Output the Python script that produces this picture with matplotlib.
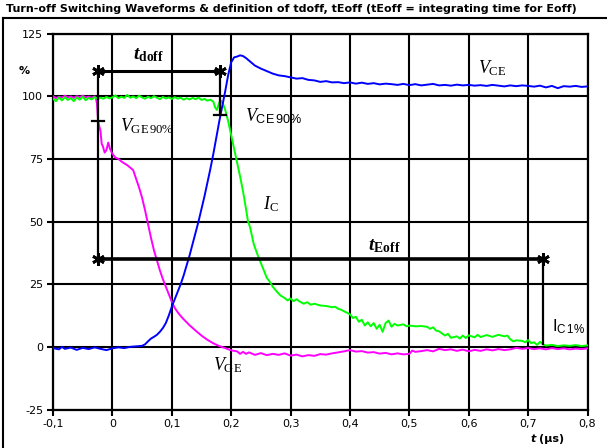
import matplotlib
matplotlib.use('Agg')
import matplotlib.pyplot as plt
from matplotlib.lines import Line2D

plt.rcParams['axes.unicode_minus'] = False
plt.rcParams['mathtext.fontset'] = 'custom'
plt.rcParams['mathtext.rm'] = 'Liberation Serif'
plt.rcParams['mathtext.it'] = 'Liberation Serif:italic'
plt.rcParams['mathtext.bf'] = 'Liberation Serif:bold'
plt.rcParams['mathtext.bfit'] = 'Liberation Serif:italic:bold'
plt.rcParams['mathtext.sf'] = 'Liberation Sans'

# collector-emitter voltage (%)
vce_t = [-0.1, -0.09, -0.085, -0.08, -0.07, -0.06, -0.05, -0.04, -0.03, -0.02,
         -0.01, 0.0, 0.01, 0.02, 0.03, 0.04, 0.05, 0.055, 0.06, 0.065,
         0.07, 0.075, 0.08, 0.085, 0.09, 0.095, 0.1, 0.105, 0.11, 0.115,
         0.12, 0.125, 0.13, 0.135, 0.14, 0.145, 0.15, 0.155, 0.16, 0.165,
         0.17, 0.175, 0.18, 0.185, 0.19, 0.195, 0.2, 0.205, 0.21, 0.215,
         0.22, 0.225, 0.23, 0.235, 0.24, 0.25, 0.26, 0.27, 0.28, 0.29,
         0.3, 0.31, 0.32, 0.33, 0.34, 0.35, 0.36, 0.37, 0.38, 0.39,
         0.4, 0.41, 0.42, 0.43, 0.44, 0.45, 0.46, 0.47, 0.48, 0.49,
         0.5, 0.51, 0.52, 0.53, 0.54, 0.55, 0.56, 0.57, 0.58, 0.59,
         0.6, 0.61, 0.62, 0.63, 0.64, 0.65, 0.66, 0.67, 0.68, 0.69,
         0.7, 0.71, 0.72, 0.73, 0.74, 0.75, 0.76, 0.77, 0.78, 0.79, 0.8]
vce = [-0.5, -1.0, 0.0, -0.8, -0.3, -1.2, -0.4, -0.9, -0.2, -0.8,
       -1.3, -0.6, -0.2, -0.5, 0.0, 0.2, 0.4, 1.0, 2.2, 3.3,
       4.0, 4.8, 6.0, 7.5, 9.5, 12.5, 16.0, 19.0, 22.0, 25.0,
       28.5, 32.5, 36.5, 41.0, 45.5, 50.0, 55.0, 60.0, 65.5, 71.0,
       77.0, 83.5, 90.0, 96.0, 102.0, 108.5, 113.5, 115.5, 115.8, 116.3,
       116.0, 115.2, 114.2, 113.2, 112.2, 111.0, 110.0, 109.0, 108.3, 108.0,
       107.5, 107.0, 107.2, 106.5, 106.3, 105.7, 106.0, 105.5, 105.6, 105.2,
       105.5, 105.0, 105.4, 104.9, 105.2, 104.7, 105.0, 104.8, 104.5, 104.9,
       104.4, 104.8, 104.3, 104.6, 104.9, 104.3, 104.5, 104.2, 104.6, 104.3,
       104.5, 104.2, 104.4, 104.1, 104.5, 104.2, 103.9, 104.3, 104.0, 104.3,
       104.1, 103.8, 104.2, 103.5, 104.1, 103.2, 104.0, 103.8, 104.1, 103.7, 103.9]

# collector current (%)
ic_t = [-0.1, -0.095, -0.09, -0.085, -0.08, -0.075, -0.07, -0.065, -0.06, -0.055,
        -0.05, -0.045, -0.04, -0.035, -0.03, -0.025, -0.02, -0.015, -0.01, -0.005,
        0.0, 0.005, 0.01, 0.015, 0.02, 0.025, 0.03, 0.035, 0.04, 0.045,
        0.05, 0.055, 0.06, 0.065, 0.07, 0.075, 0.08, 0.085, 0.09, 0.095,
        0.1, 0.105, 0.11, 0.115, 0.12, 0.125, 0.13, 0.135, 0.14, 0.145,
        0.15, 0.155, 0.16, 0.165, 0.17, 0.173, 0.176, 0.18, 0.183, 0.187,
        0.19, 0.195, 0.2, 0.205, 0.21, 0.215, 0.22, 0.225, 0.228, 0.232,
        0.238, 0.244, 0.25, 0.255, 0.26, 0.265, 0.27, 0.277, 0.283, 0.29,
        0.295, 0.3, 0.305, 0.31, 0.316, 0.322, 0.328, 0.334, 0.34, 0.35,
        0.36, 0.37, 0.375, 0.38, 0.385, 0.39, 0.395, 0.4, 0.405, 0.41,
        0.415, 0.42, 0.425, 0.43, 0.435, 0.44, 0.445, 0.45, 0.455, 0.46,
        0.465, 0.47, 0.475, 0.48, 0.49, 0.495, 0.5, 0.51, 0.52, 0.53,
        0.535, 0.54, 0.545, 0.55, 0.56, 0.565, 0.57, 0.58, 0.585, 0.59,
        0.595, 0.6, 0.61, 0.615, 0.62, 0.63, 0.64, 0.65, 0.66, 0.665,
        0.67, 0.675, 0.68, 0.69, 0.695, 0.7, 0.705, 0.71, 0.715, 0.72,
        0.725, 0.73, 0.74, 0.75, 0.76, 0.77, 0.78, 0.79, 0.8]
ic = [99.0, 98.0, 99.5, 98.3, 99.6, 98.5, 99.2, 98.0, 99.5, 98.6,
      99.8, 98.4, 99.3, 98.7, 99.6, 98.9, 99.4, 99.0, 99.7, 99.1,
      99.5, 100.3, 99.2, 99.8, 99.3, 100.5, 99.4, 99.9, 99.2, 100.2,
      99.5, 99.0, 99.8, 99.2, 100.0, 99.4, 98.8, 99.7, 99.1, 99.5,
      98.9, 99.6, 99.0, 99.4, 98.6, 99.2, 98.7, 99.3, 98.8, 99.4,
      98.5, 98.9, 98.2, 98.6, 97.8, 95.5, 94.5, 97.5, 98.2, 96.5,
      94.5, 90.0, 84.5, 79.0, 73.5, 68.0, 62.0, 55.0, 50.5, 47.5,
      41.0, 37.0, 33.5, 30.5, 27.5, 26.0, 24.0, 22.0, 20.5, 19.5,
      18.5, 19.3, 18.2, 19.0, 18.0, 17.2, 17.8, 16.8, 17.2, 16.5,
      16.3, 15.8, 16.0, 15.2, 14.8, 14.2, 13.6, 13.0, 11.5, 12.0,
      10.0, 10.8, 8.5, 9.8, 8.2, 9.5, 7.2, 8.8, 6.0, 9.5,
      10.5, 8.0, 9.2, 8.5, 9.0, 8.2, 8.5, 8.2, 8.3, 8.0,
      7.2, 7.8, 6.5, 6.2, 4.5, 5.2, 3.6, 4.2, 3.3, 4.5,
      3.5, 4.6, 3.8, 4.8, 3.9, 4.7, 4.0, 4.8, 4.2, 4.5,
      3.0, 2.2, 2.6, 2.4, 1.8, 2.7, 1.5, 1.8, 0.8, 2.0,
      1.0, 0.5, 0.8, 0.3, 0.6, 0.4, 0.7, 0.3, 0.6]

# gate-emitter voltage (%)
vge_t = [-0.1, -0.095, -0.09, -0.085, -0.08, -0.075, -0.07, -0.065, -0.06, -0.055,
         -0.05, -0.045, -0.04, -0.035, -0.03, -0.028, -0.026, -0.024, -0.022, -0.02,
         -0.018, -0.016, -0.013, -0.01, -0.007, -0.004, 0.0, 0.005, 0.01, 0.015,
         0.02, 0.025, 0.03, 0.035, 0.04, 0.045, 0.05, 0.055, 0.06, 0.065,
         0.07, 0.075, 0.08, 0.085, 0.09, 0.095, 0.1, 0.105, 0.11, 0.115,
         0.12, 0.13, 0.14, 0.15, 0.16, 0.17, 0.18, 0.19, 0.2, 0.21,
         0.215, 0.22, 0.225, 0.23, 0.24, 0.25, 0.26, 0.27, 0.28, 0.29,
         0.3, 0.31, 0.32, 0.33, 0.34, 0.35, 0.36, 0.37, 0.38, 0.39,
         0.4, 0.41, 0.42, 0.43, 0.44, 0.45, 0.46, 0.47, 0.48, 0.49,
         0.5, 0.505, 0.51, 0.52, 0.53, 0.54, 0.55, 0.56, 0.57, 0.58,
         0.59, 0.6, 0.61, 0.62, 0.63, 0.64, 0.65, 0.66, 0.67, 0.68,
         0.69, 0.7, 0.71, 0.72, 0.73, 0.74, 0.75, 0.76, 0.77, 0.78, 0.79, 0.8]
vge = [100.0, 99.2, 99.8, 99.4, 100.2, 99.5, 99.9, 99.3, 100.0, 99.6,
       100.2, 99.5, 99.8, 99.4, 99.9, 99.5, 97.0, 90.0, 88.0, 86.0,
       81.0, 80.0, 77.5, 78.5, 81.5, 79.0, 77.0, 75.5, 75.0, 74.0,
       73.2, 72.5, 71.5, 70.5, 67.0, 63.5, 59.5, 54.5, 49.0, 43.5,
       38.5, 34.5, 30.5, 27.0, 24.0, 21.0, 18.0, 15.5, 13.8, 12.3,
       11.0, 8.6, 6.5, 4.5, 2.8, 1.4, 0.3, -0.5, -1.4, -1.8,
       -2.8, -2.0, -2.8, -2.2, -3.2, -2.5, -3.3, -2.8, -3.2, -2.6,
       -3.5, -3.1, -3.8, -3.3, -3.6, -2.9, -3.1, -2.6, -2.2, -1.8,
       -1.3, -1.9, -1.7, -2.3, -2.1, -2.7, -2.4, -3.0, -2.6, -3.0,
       -2.8, -1.5, -2.0, -1.7, -1.3, -1.8, -0.8, -1.3, -1.0, -1.6,
       -1.1, -1.8, -1.2, -1.6, -1.0, -1.4, -0.9, -1.3, -1.0, -0.4,
       -0.8, -0.5, -0.9, -0.6, -1.0, -0.5, -0.9, -0.6, -1.0, -0.7, -0.9, -0.6]

# timing definitions
t_doff_start = -0.024
t_doff_end = 0.181
t_eoff_end = 0.725
t_doff_level = 110
t_eoff_level = 35
vge_90 = 90
vce_90 = 92.4
ic_1 = 1

x_ticks = [-0.1, 0.0, 0.1, 0.2, 0.3, 0.4, 0.5, 0.6, 0.7, 0.8]
x_tick_labels = ['-0,1', '0', '0,1', '0,2', '0,3', '0,4', '0,5', '0,6', '0,7', '0,8']
y_ticks = [-25, 0, 25, 50, 75, 100, 125]
y_tick_labels = ['-25', '0', '25', '50', '75', '100', '125']

fig = plt.figure(figsize=(6.07, 4.48), dpi=100)
ax = fig.add_axes([0.0873, 0.0859, 0.8806, 0.8393])

ax.set_xlim(-0.1, 0.8)
ax.set_ylim(-25, 125)
ax.set_xticks(x_ticks)
ax.set_xticklabels(x_tick_labels)
ax.set_yticks(y_ticks)
ax.set_yticklabels(y_tick_labels)
ax.grid(True, color='black', linewidth=1.5)
ax.set_axisbelow(True)
for s in ax.spines.values():
    s.set_linewidth(1.6)
ax.tick_params(direction='out', length=4, width=1.5, labelsize=8, pad=3)

ax.plot(vge_t, vge, color='#ff00ff', linewidth=1.4, zorder=3)
ax.plot(ic_t, ic, color='#00ff00', linewidth=1.4, zorder=3)
ax.plot(vce_t, vce, color='#0000ff', linewidth=1.4, zorder=4)

# tdoff / tEoff markers
star = (6, 2, 0)
ax.plot([t_doff_start, t_doff_end], [t_doff_level, t_doff_level], color='black',
        linewidth=2.2, marker=star, markersize=9, markeredgewidth=2, zorder=5)
ax.plot([t_doff_start, t_eoff_end], [t_eoff_level, t_eoff_level], color='black',
        linewidth=2.6, marker=star, markersize=9, markeredgewidth=2, zorder=5)
ax.plot([t_doff_start, t_doff_start], [t_doff_level, t_eoff_level], color='black',
        linewidth=1.6, zorder=5)
ax.plot([t_doff_end, t_doff_end], [t_doff_level, vce_90], color='black',
        linewidth=1.6, zorder=5)
ax.plot([t_eoff_end, t_eoff_end], [t_eoff_level, ic_1], color='black',
        linewidth=1.6, zorder=5)
ax.plot([t_doff_start - 0.01, t_doff_start + 0.01], [vge_90, vge_90], color='black',
        linewidth=1.6, zorder=5)
ax.plot([t_doff_end - 0.01, t_doff_end + 0.01], [vce_90, vce_90], color='black',
        linewidth=1.6, zorder=5)

ax.text(0.034, 116.5, r'$\boldsymbol{t}_{\mathbf{doff}}$', fontsize=14,
        ha='left', va='center', zorder=6)
ax.text(0.43, 40.5, r'$\boldsymbol{t}_{\mathbf{Eoff}}$', fontsize=14,
        ha='left', va='center', zorder=6)
ax.text(0.013, 88, r'$V_{\mathrm{GE\,90\%}}$', fontsize=13,
        ha='left', va='center', zorder=6)
ax.text(0.224, 92, r'$V_{\mathsf{CE\,90\%}}$', fontsize=13,
        ha='left', va='center', zorder=6)
ax.text(0.616, 111, r'$V_{\mathrm{CE}}$', fontsize=13,
        ha='left', va='center', zorder=6)
ax.text(0.254, 57, r'$I_{\mathrm{C}}$', fontsize=13,
        ha='left', va='center', zorder=6)
ax.text(0.17, -7.5, r'$V_{\mathrm{GE}}$', fontsize=13,
        ha='left', va='center', zorder=6)
ax.text(0.741, 8, r'$\mathsf{I}_{\mathsf{C\,1\%}}$', fontsize=12,
        ha='left', va='center', zorder=6)

fig.text(24 / 607, 1 - 71 / 448, '%', fontsize=8, fontweight='bold',
         ha='center', va='center')
fig.text(533 / 607, 1 - 439 / 448, 't', fontsize=8, fontweight='bold',
         fontstyle='italic', ha='center', va='center')
fig.text(539 / 607, 1 - 439 / 448, '(µs)', fontsize=8, fontweight='bold',
         ha='left', va='center')
fig.text(6 / 607, 1 - 9 / 448,
         'Turn-off Switching Waveforms & definition of tdoff, tEoff '
         '(tEoff = integrating time for Eoff)',
         fontsize=8, fontweight='bold', ha='left', va='center')

# outer chart frame
fig.add_artist(Line2D([3 / 607, 1.0], [1 - 18 / 448, 1 - 18 / 448],
                      color='black', linewidth=1.5))
fig.add_artist(Line2D([3 / 607, 3 / 607], [0.0, 1 - 18 / 448],
                      color='black', linewidth=1.5))

fig.savefig('out.png', dpi=100)
